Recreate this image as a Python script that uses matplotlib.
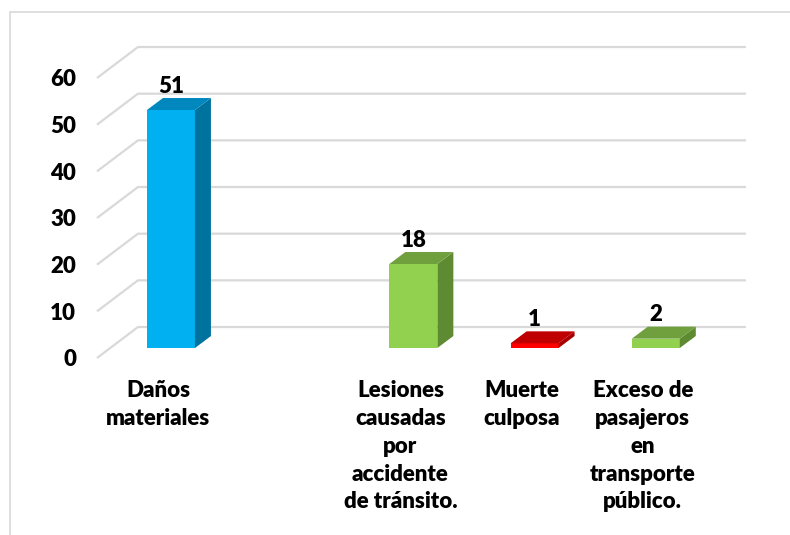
import matplotlib
matplotlib.use("Agg")
import matplotlib.pyplot as plt
from matplotlib.patches import Polygon, Rectangle

# data
categories = ["Daños\nmateriales", "",
              "Lesiones\ncausadas\npor\naccidente\nde tránsito.",
              "Muerte\nculposa",
              "Exceso de\npasajeros\nen\ntransporte\npúblico."]
values = [51, None, 18, 1, 2]
front_colors = ["#00B0F0", None, "#92D050", "#FF0000", "#92D050"]
side_colors = ["#00729E", None, "#5E8A32", "#A80000", "#5E8A32"]
top_colors = ["#0088BE", None, "#70A03E", "#C00000", "#70A03E"]
yticks = [0, 10, 20, 30, 40, 50, 60]

plt.rcParams['font.family'] = ['Lato', 'DejaVu Sans']

fig = plt.figure(figsize=(7.9, 5.35), dpi=100)
ax = fig.add_axes([97 / 790, 177 / 535, 608 / 790, 280 / 535])
ax.set_xlim(-0.503, 4.513)
ax.set_ylim(0, 60)

# 3d look: wall depth and bar depth (data units)
wall_dx, wall_dy = 0.338, 6.64
bar_ox, bar_oy = 0.107, 2.14
bar_dx, bar_dy = 0.132, 2.57
half_w = 0.198
fs = 16

x0, x1 = ax.get_xlim()
for v in yticks:
    ax.plot([x0, x0 + wall_dx, x1 + wall_dx], [v, v + wall_dy, v + wall_dy],
            color="#d9d9d9", lw=1.6, clip_on=False, zorder=1,
            solid_capstyle='butt')

for i, v in enumerate(values):
    if v is None:
        continue
    xc = i + bar_ox
    ax.bar(xc, v, width=2 * half_w, bottom=bar_oy, color=front_colors[i],
           zorder=3, clip_on=False)
    fl, fr = xc - half_w, xc + half_w
    yb, yt = bar_oy, bar_oy + v
    side = Polygon([(fr, yb), (fr + bar_dx, yb + bar_dy),
                    (fr + bar_dx, yt + bar_dy), (fr, yt)],
                   closed=True, facecolor=side_colors[i], edgecolor='none',
                   zorder=3, clip_on=False)
    top = Polygon([(fl, yt), (fr, yt), (fr + bar_dx, yt + bar_dy),
                   (fl + bar_dx, yt + bar_dy)],
                  closed=True, facecolor=top_colors[i], edgecolor='none',
                  zorder=3, clip_on=False)
    ax.add_patch(side)
    ax.add_patch(top)
    ax.annotate(str(v), xy=(xc, yt + bar_dy), xytext=(0, 8.5),
                textcoords='offset points', ha='center', va='center',
                fontsize=fs, fontweight='heavy', color='black')

ax.set_xticks(range(len(categories)))
ax.set_xticklabels(categories, fontsize=fs, fontweight='heavy',
                   linespacing=1.4, multialignment='center')
ax.set_yticks(yticks)
ax.set_yticklabels([str(t) for t in yticks], fontsize=fs,
                   fontweight='heavy')
ax.tick_params(axis='x', length=0, pad=16)
ax.tick_params(axis='y', length=0, pad=15)
for s in ax.spines.values():
    s.set_visible(False)
ax.patch.set_visible(False)

# chart border
fig.patches.append(Rectangle((10 / 790, -0.1), 1.2, 1.1 - 12 / 535,
                             transform=fig.transFigure, fill=False,
                             edgecolor="#d9d9d9", lw=1.2))

fig.savefig("out.png", dpi=100)
